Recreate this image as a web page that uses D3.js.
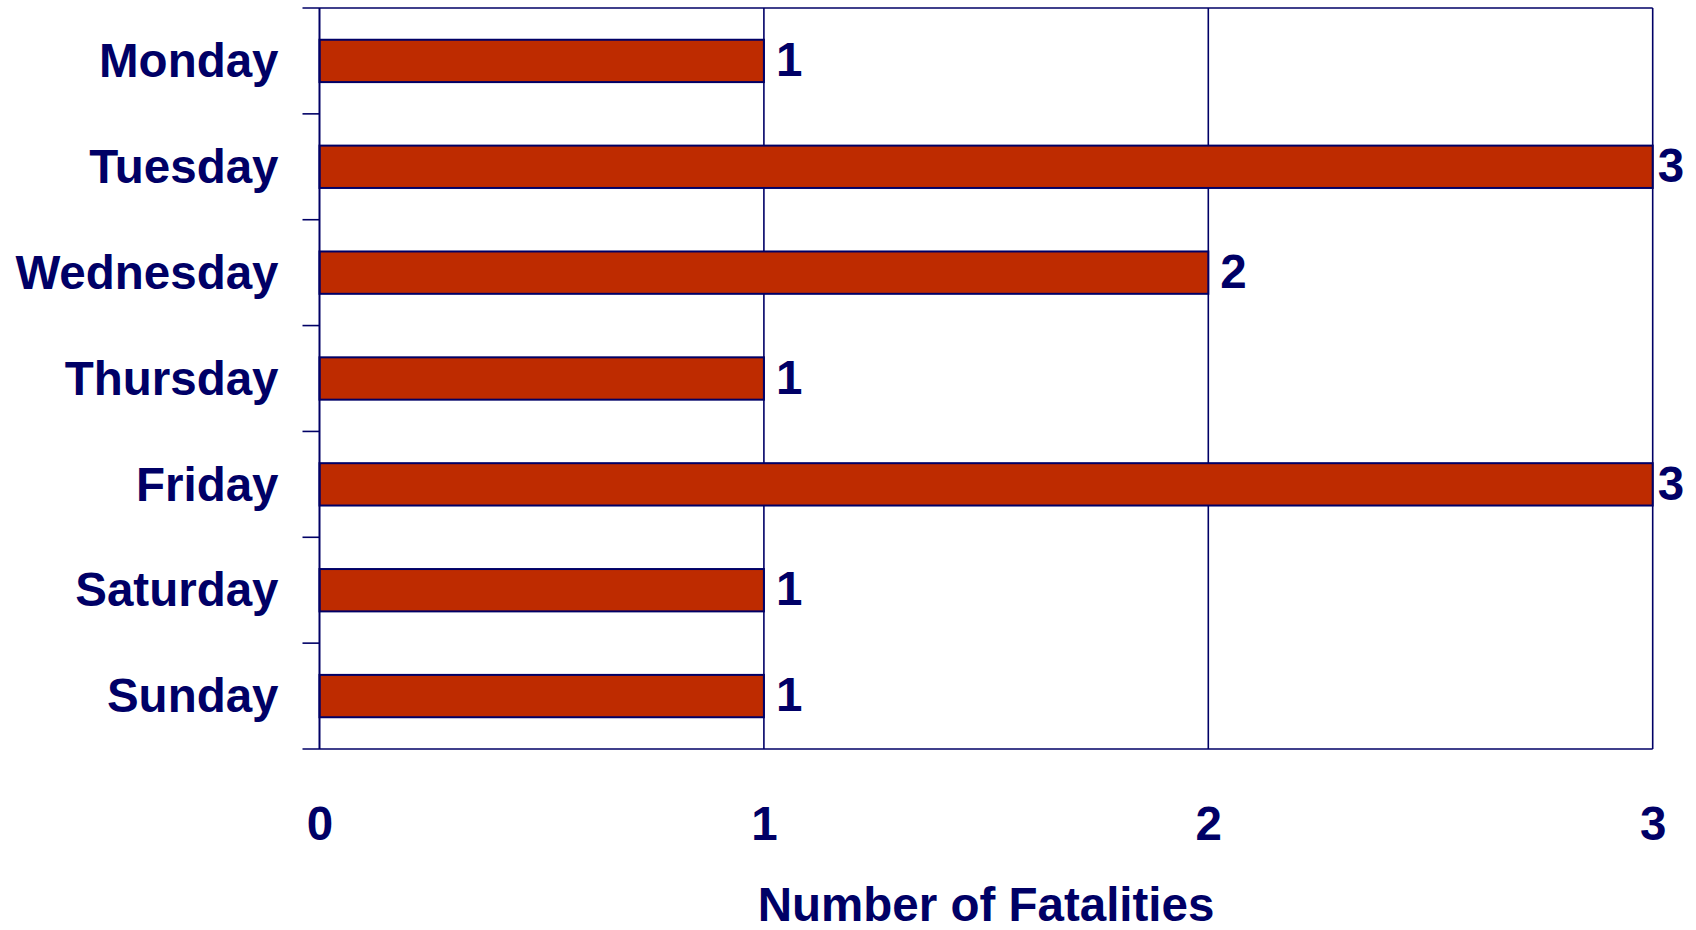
<!DOCTYPE html>
<html>
<head>
<meta charset="utf-8">
<script src="https://cdn.jsdelivr.net/npm/d3@7"></script>
<style>
  body { margin: 0; background: #fff; }
  text { font-family: "Liberation Sans", Arial, sans-serif; font-weight: bold; fill: #000066; }
</style>
</head>
<body>
<div id="vis"></div>
<script>
const days = ["Monday", "Tuesday", "Wednesday", "Thursday", "Friday", "Saturday", "Sunday"];
const fatalities = [1, 3, 2, 1, 3, 1, 1];
const xTicks = [0, 1, 2, 3];
const axisTitle = "Number of Fatalities";

const WIDTH = 1696;
const HEIGHT = 930;
const margin = { top: 8, left: 319.5, right: 43.3, bottom: 181 };
const WIDTHVIS = WIDTH - margin.left - margin.right;
const HEIGHTVIS = HEIGHT - margin.top - margin.bottom;
const NAVY = "#000066";
const BAR = "#be2b00";
const FONT = 47.5;

const data = days.map((d, i) => ({ day: d, value: fatalities[i] }));

const svg = d3.select("#vis").append("svg")
  .attr("width", WIDTH).attr("height", HEIGHT);

const g = svg.append("g")
  .attr("transform", `translate(${margin.left},${margin.top})`);

const escalaX = d3.scaleLinear().domain([0, 3]).range([0, WIDTHVIS]);
const escalaY = d3.scaleBand().domain(days).range([0, HEIGHTVIS])
  .paddingInner(0.6).paddingOuter(0.3);
const step = escalaY.step();

// lineas verticales en 1, 2, 3
g.selectAll(".grid")
  .data(xTicks.filter(d => d > 0))
  .join("line")
  .attr("x1", d => escalaX(d)).attr("x2", d => escalaX(d))
  .attr("y1", 0).attr("y2", HEIGHTVIS)
  .attr("stroke", NAVY).attr("stroke-width", 1.6);

// borde superior / inferior y ticks de categorias
const bordes = d3.range(days.length + 1);
g.selectAll(".tick-y")
  .data(bordes)
  .join("line")
  .attr("x1", -17)
  .attr("x2", d => (d === 0 || d === days.length) ? WIDTHVIS : 0)
  .attr("y1", d => d * step).attr("y2", d => d * step)
  .attr("stroke", NAVY).attr("stroke-width", 1.6);

// barras
g.selectAll(".bar")
  .data(data)
  .join("rect")
  .attr("x", 0)
  .attr("y", d => escalaY(d.day))
  .attr("width", d => escalaX(d.value))
  .attr("height", escalaY.bandwidth())
  .attr("fill", BAR)
  .attr("stroke", NAVY).attr("stroke-width", 2);

// eje izquierdo
g.append("line")
  .attr("x1", 0).attr("x2", 0).attr("y1", 0).attr("y2", HEIGHTVIS)
  .attr("stroke", NAVY).attr("stroke-width", 2);

// etiquetas de categorias
g.selectAll(".cat")
  .data(data)
  .join("text")
  .attr("x", -41)
  .attr("y", d => escalaY(d.day) + escalaY.bandwidth() / 2)
  .attr("dy", "0.34em")
  .attr("text-anchor", "end")
  .style("font-size", FONT + "px")
  .text(d => d.day);

// etiquetas de valor (se acercan si no caben a la derecha)
g.selectAll(".val")
  .data(data)
  .join("text")
  .attr("x", d => {
    const x = escalaX(d.value);
    return x + 45 > WIDTHVIS + margin.right ? x + 5 : x + 12;
  })
  .attr("y", d => escalaY(d.day) + escalaY.bandwidth() / 2)
  .attr("dy", "0.32em")
  .style("font-size", FONT + "px")
  .text(d => d.value);

// eje x
const ejeX = d3.axisBottom(escalaX).tickValues(xTicks).tickSize(0).tickPadding(57)
  .tickFormat(d3.format("d"));
const ejeG = g.append("g")
  .attr("transform", `translate(0,${HEIGHTVIS})`)
  .call(ejeX);
ejeG.select(".domain").remove();
ejeG.selectAll("text")
  .attr("fill", NAVY)
  .style("font-family", '"Liberation Sans", Arial, sans-serif')
  .style("font-weight", "bold")
  .style("font-size", FONT + "px");

// titulo del eje
g.append("text")
  .attr("x", WIDTHVIS / 2)
  .attr("y", HEIGHTVIS + 172)
  .attr("text-anchor", "middle")
  .style("font-size", FONT + "px")
  .text(axisTitle);
</script>
</body>
</html>
